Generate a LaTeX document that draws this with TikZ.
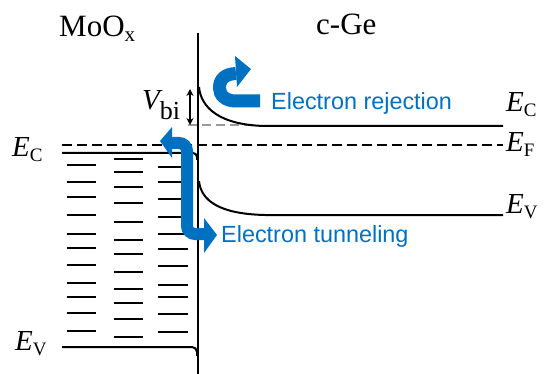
\documentclass[tikz,border=0pt]{standalone}
\usepackage{fontspec}
\setmainfont{Liberation Serif}
\newfontfamily\sansf{Liberation Sans}
\usetikzlibrary{arrows.meta}
\definecolor{blueA}{RGB}{0,112,192}
\newcommand{\lvlab}[1]{{\fontsize{29}{29}\selectfont\itshape E}\raisebox{-5pt}{\fontsize{19}{19}\selectfont #1}}
\begin{document}
\begin{tikzpicture}[x=1pt,y=-1pt,
  band/.style={line width=2pt,black},
  trap/.style={line width=2pt,black},
  fermi/.style={line width=2pt,black,dash pattern=on 10pt off 5pt},
  grayd/.style={line width=1.6pt,black!40,dash pattern=on 9pt off 5pt},
  lab/.style={anchor=base west,inner sep=0pt},
  bluebar/.style={draw=blueA,line cap=butt},
  bluetxt/.style={anchor=base west,inner sep=0pt,text=blueA,font=\sansf\fontsize{23.4}{24}\selectfont}]
\useasboundingbox (0,0) rectangle (548,374);

% titles
\node[lab,font=\fontsize{31}{31}\selectfont] (moox) at (59,37) {MoO\raisebox{-5pt}{\fontsize{21}{21}\selectfont x}};
\node[lab,font=\fontsize{31}{31}\selectfont] (cge) at (316,35) {c-Ge};

% interface
\coordinate (itop) at (198,33);
\coordinate (ibot) at (198,374);
\draw[band] (itop) -- (ibot);

% Fermi level
\coordinate (fl) at (62,145);
\coordinate (fr) at (503,145);
\draw[fermi] (fl) -- (fr);

% MoOx bands
\draw[band,rounded corners=4pt] (62,153) -- (197,153) -- (197,160);
\draw[band,rounded corners=5pt] (62,347) -- (197,347) -- (197,356);

% traps
\foreach \y in {165,182,197,215,234,248,265,283,297,313,331}
  \draw[trap] (67,\y) -- (96,\y);
\foreach \y in {159,172,187,203,222,240,254,272,289,303,319,337}
  \draw[trap] (114,\y) -- (143,\y);
\foreach \y in {167,182,199,217,234,249,266,285,297,314,332}
  \draw[trap] (158,\y) -- (188,\y);

% c-Ge bands
\draw[grayd] (188,125) -- (252,125);
\draw[band] (199,87) .. controls (201,108) and (220,125) .. (265,126) -- (503,126);
\draw[band] (199,181) .. controls (201,201) and (220,214) .. (265,215) -- (503,215);

% V_bi
\coordinate (vt) at (190,89);
\coordinate (vb) at (190,125);
\draw[line width=1.3pt,{Stealth[length=7pt,width=7pt]}-{Stealth[length=7pt,width=7pt]}] (vt) -- (vb);
\node[lab] (vbi) at (142,110) {{\fontsize{29}{29}\selectfont\itshape V}\raisebox{-10pt}{\fontsize{26}{26}\selectfont bi}};

% level labels
\node[lab] (ecl) at (12,157) {\lvlab{C}};
\node[lab] (evl) at (15,350) {\lvlab{V}};
\node[lab] (ecr) at (506,112) {\lvlab{C}};
\node[lab] (efr) at (506,152) {\lvlab{F}};
\node[lab] (evr) at (506,213) {\lvlab{V}};

% rejection arrow
\draw[bluebar,line width=13pt] (260,101) -- (236,101)
  .. controls (225,101) and (219.5,95) .. (219.5,88)
  .. controls (219.5,79) and (225,74) .. (236,73.5);
\fill[blueA] (235,56) -- (251,69) -- (237,87) -- cycle;
\node[bluetxt] (rej) at (271,110) {Electron rejection};

% tunneling arrow
\draw[bluebar,line width=12pt,rounded corners=8pt] (171,143) -- (187,143) -- (187,234) -- (204,234);
\fill[blueA] (172,127) -- (160,141) -- (172,158) -- cycle;
\fill[blueA] (204,218) -- (217,235) -- (204,253) -- cycle;
\node[bluetxt] (tun) at (221,242) {Electron tunneling};
\end{tikzpicture}
\end{document}
